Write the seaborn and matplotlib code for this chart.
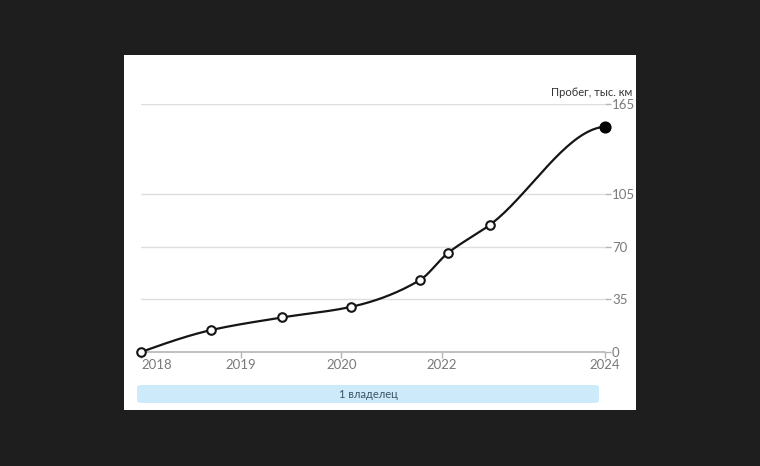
import numpy as np
import matplotlib
matplotlib.use("Agg")
import matplotlib.pyplot as plt
from matplotlib.patches import Rectangle, FancyBboxPatch
import seaborn as sns
import pandas as pd

# ---- data ----
x_pos = [0.0, 0.70, 1.41, 2.10, 2.78, 3.06, 3.48, 4.63]
mileage = [0.0, 14.6, 23.0, 30.1, 47.7, 65.7, 84.5, 149.9]
x_tick_pos = [0.0, 1.0, 2.0, 3.0, 4.63]
x_tick_labels = ["2018", "2019", "2020", "2022", "2024"]
y_ticks = [0, 35, 70, 105, 165]
y_title = "Пробег, тыс. км"
owner_label = "1 владелец"

df = pd.DataFrame({"x": x_pos, "y": mileage})


def smooth_curve(x, y, n=40):
    x = np.asarray(x, float); y = np.asarray(y, float)
    h = np.diff(x); d = np.diff(y) / h
    m = np.zeros_like(y)
    for i in range(1, len(x) - 1):
        if d[i - 1] * d[i] <= 0:
            m[i] = 0
        else:
            w1 = 2 * h[i] + h[i - 1]; w2 = h[i] + 2 * h[i - 1]
            m[i] = (w1 + w2) / (w1 / d[i - 1] + w2 / d[i])
    m[0] = (3 * d[0] - m[1]) / 2
    m[-1] = 0.08 * d[-1]  # flattening into the last point
    xs, ys = [], []
    for i in range(len(x) - 1):
        t = np.linspace(0, 1, n)
        h00 = 2 * t**3 - 3 * t**2 + 1; h10 = t**3 - 2 * t**2 + t
        h01 = -2 * t**3 + 3 * t**2; h11 = t**3 - t**2
        xs.append(x[i] + t * h[i])
        ys.append(h00 * y[i] + h10 * h[i] * m[i] + h01 * y[i + 1] + h11 * h[i] * m[i + 1])
    return np.concatenate(xs), np.concatenate(ys)


sns.set_theme(style="white")
plt.rcParams["font.family"] = ["Lato", "DejaVu Sans"]

W, H = 760, 466
fig = plt.figure(figsize=(W / 100, H / 100), dpi=100)
fig.patch.set_facecolor("#1e1e1e")

fig.patches.append(Rectangle((124 / W, 1 - 410 / H), (636 - 124) / W, (410 - 55) / H,
                             transform=fig.transFigure, facecolor="white",
                             edgecolor="none", zorder=-10))
fig.patches.append(FancyBboxPatch((137 / W, 1 - 403 / H), (599 - 137) / W, (403 - 385) / H,
                                  boxstyle="round,pad=0,rounding_size=0.006",
                                  transform=fig.transFigure, facecolor="#cdeafb",
                                  edgecolor="none", zorder=-5))

ax_left, ax_right = 141 / W, 605 / W
ax_bottom, ax_top = 1 - 352 / H, 1 - 104 / H
ax = fig.add_axes([ax_left, ax_bottom, ax_right - ax_left, ax_top - ax_bottom])
ax.patch.set_visible(False)

ax.set_xlim(0, 4.63)
ax.set_ylim(0, 165)

for yt in y_ticks[1:]:
    ax.axhline(yt, color="#dedede", lw=1, zorder=1)
ax.axhline(0, color="#b5b5b5", lw=1.2, zorder=1, clip_on=False)

cx, cy = smooth_curve(df["x"], df["y"])
ax.plot(cx, cy, color="#151515", lw=1.6, zorder=3, clip_on=False)

sns.scatterplot(data=df.iloc[:-1], x="x", y="y", ax=ax, s=38, color="white",
                edgecolor="#151515", linewidth=1.5, zorder=4, clip_on=False, legend=False)
sns.scatterplot(data=df.iloc[-1:], x="x", y="y", ax=ax, s=60, color="#000000",
                edgecolor="#000000", linewidth=1, zorder=5, clip_on=False, legend=False)

for s in ax.spines.values():
    s.set_visible(False)

ax.set_xlabel(""); ax.set_ylabel("")
ax.set_xticks(x_tick_pos)
ax.set_xticklabels(x_tick_labels)
ax.tick_params(axis="x", length=4, width=1, color="#b5b5b5", labelcolor="#7a7a7a",
               labelsize=9.5, pad=1, bottom=True)
ax.get_xticklabels()[0].set_horizontalalignment("left")

ax.yaxis.tick_right()
ax.set_yticks(y_ticks)
ax.set_yticklabels([str(v) for v in y_ticks])
ax.tick_params(axis="y", length=4, width=1, color="#b5b5b5", labelcolor="#7a7a7a",
               labelsize=9.5, pad=1, right=True, left=False)

fig.text(632 / W, 1 - 93 / H, y_title, ha="right", va="center", fontsize=8,
         color="#333333")
fig.text((137 + 599) / 2 / W, 1 - 394 / H, owner_label, ha="center", va="center",
         fontsize=8, color="#3d5566")

fig.savefig("out.png", dpi=100, facecolor=fig.get_facecolor())
